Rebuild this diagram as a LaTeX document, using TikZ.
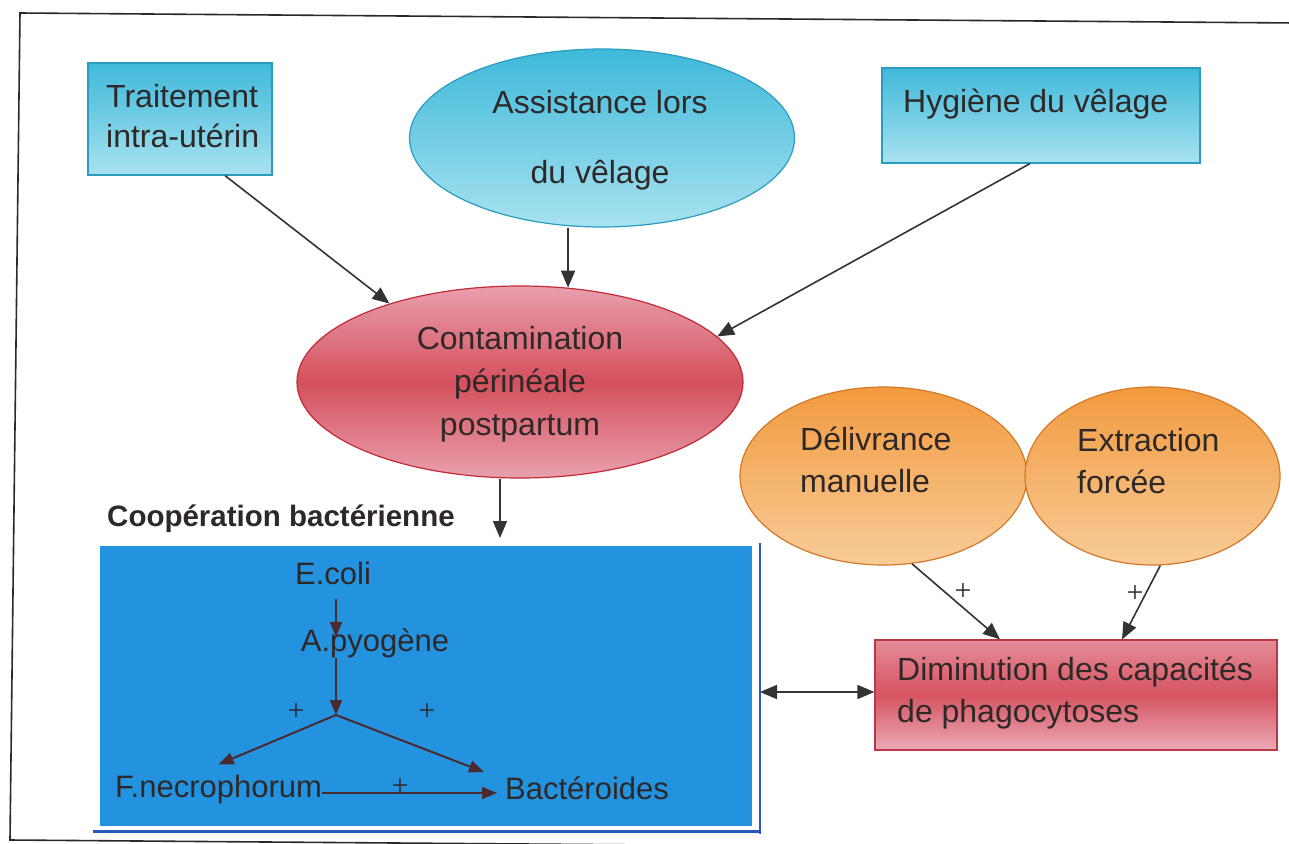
\documentclass[tikz,border=0pt]{standalone}
\usepackage{fontspec}
\setmainfont{Liberation Sans}
\newfontfamily\plusfont{Liberation Serif}
\usetikzlibrary{arrows.meta,shapes.geometric,calc}
\definecolor{txtc}{HTML}{2E2828}
\definecolor{arrc}{HTML}{333333}
\definecolor{barrc}{HTML}{4A2A2E}
\definecolor{cyanT}{HTML}{3FB9D9}
\definecolor{cyanBot}{HTML}{A8E2F0}
\definecolor{cyanBd}{HTML}{2A9CC0}
\definecolor{redM}{HTML}{D4505C}
\definecolor{pinkE}{HTML}{E9A0AE}
\definecolor{redBd}{HTML}{C22A36}
\definecolor{oraT}{HTML}{F29A3E}
\definecolor{oraBot}{HTML}{F8CC98}
\definecolor{oraBd}{HTML}{D4782A}
\definecolor{dimT}{HTML}{E48C98}
\definecolor{dimM}{HTML}{D65461}
\definecolor{dimBot}{HTML}{EBA9B6}
\definecolor{dimBd}{HTML}{B83848}
\definecolor{coopblue}{HTML}{2393E0}
\definecolor{coopline}{HTML}{2858B8}
\definecolor{framec}{HTML}{2A2A2A}
\begin{document}
\begin{tikzpicture}[x=1pt,y=-1pt,
  cyanbox/.style={rectangle, draw=cyanBd, line width=1.2pt, top color=cyanT, bottom color=cyanBot, inner sep=0pt},
  cyanell/.style={ellipse, draw=cyanBd, line width=1.2pt, top color=cyanT, bottom color=cyanBot, inner sep=0pt},
  redell/.style={ellipse, draw=redBd, line width=1.2pt, top color=pinkE, bottom color=pinkE, middle color=redM, inner sep=0pt},
  oraell/.style={ellipse, draw=oraBd, line width=1.2pt, top color=oraT, bottom color=oraBot, inner sep=0pt},
  dimbox/.style={rectangle, draw=dimBd, line width=1.2pt, top color=dimT, bottom color=dimBot, middle color=dimM, inner sep=0pt},
  lbl/.style={text=txtc, inner sep=0pt, font=\fontsize{32}{40}\selectfont},
  bact/.style={text=txtc, inner sep=0pt, font=\fontsize{31}{38}\selectfont},
  plus/.style={text=txtc, inner sep=0pt, font=\plusfont\fontsize{30}{30}\selectfont},
  conn/.style={draw=arrc, line width=1.6pt, -{Triangle[length=17pt,width=14pt]}},
  bconn/.style={draw=barrc, line width=2pt, -{Triangle[length=15pt,width=12pt]}},
  dconn/.style={draw=arrc, line width=1.6pt, {Triangle[length=17pt,width=14pt]}-{Triangle[length=17pt,width=14pt]}}
]
\useasboundingbox (0,0) rectangle (1289,843);
\clip (0,0) rectangle (1289,843);
\fill[white] (0,0) rectangle (1289,843);

% outer frame
\draw[framec, line width=1.6pt] (1295,23) -- (20,13) -- (10,840) -- (1295,850);

% top row
\node[cyanbox, minimum width=184pt, minimum height=112pt] (trait) at (180,119) {};
\node[lbl, align=left, anchor=west, font=\fontsize{32}{40}\selectfont] (traitT) at (106,116) {Traitement\\intra-utérin};

\node[cyanell, minimum width=385pt, minimum height=178pt] (assist) at (602,138) {};
\node[lbl, align=center, font=\fontsize{32}{70}\selectfont] (assistT) at (600,140) {Assistance lors\\du vêlage};

\node[cyanbox, minimum width=318pt, minimum height=95pt] (hyg) at (1041,115.5) {};
\node[lbl, anchor=west] (hygT) at (903,104) {Hygiène du vêlage};

% contamination
\node[redell, minimum width=446pt, minimum height=192pt] (cont) at (520,382) {};
\node[lbl, align=center, font=\fontsize{32}{43}\selectfont] (contT) at (520,384) {Contamination\\périnéale\\postpartum};

% orange ellipses
\node[oraell, minimum width=287pt, minimum height=178pt] (deliv) at (883.5,476) {};
\node[lbl, align=left, anchor=west, font=\fontsize{32}{42}\selectfont] (delivT) at (800,460) {Délivrance\\manuelle};

\node[oraell, minimum width=255pt, minimum height=178pt] (extr) at (1152.5,476) {};
\node[lbl, align=left, anchor=west, font=\fontsize{32}{42}\selectfont] (extrT) at (1077,461) {Extraction\\forcée};

% diminution box
\node[dimbox, minimum width=402pt, minimum height=110pt] (dim) at (1076,695) {};
\node[lbl, align=left, anchor=west, font=\fontsize{32}{42}\selectfont] (dimT) at (897,693) {Diminution des capacités\\de phagocytoses};

% cooperation area
\node[text=txtc, inner sep=0pt, anchor=west, font=\bfseries\fontsize{29.5}{35}\selectfont] (cooptitle) at (107,519) {Coopération bactérienne};
\node[fill=coopblue, inner sep=0pt, minimum width=652pt, minimum height=280pt] (coop) at (426,686) {};
\draw[coopline, line width=1.3pt] (760,543) -- (760,834);
\draw[coopline, line width=2.6pt] (93,831.5) -- (760,831.5);
\coordinate (coopR) at (760,692);
\coordinate (coopIn) at (500,538);

% bacteria
\node[bact, anchor=base] (ecoli) at (333,584) {E.coli};
\node[bact, anchor=base] (apyo) at (375,651) {A.pyogène};
\node[bact, anchor=base west] (fnec) at (115,797) {F.necrophorum};
\node[bact, anchor=base west] (bacto) at (505,799) {Bactéroides};
\coordinate (J) at (336,715);

\draw[bconn] ([yshift=-14pt]ecoli.south -| J) -- ([yshift=-9pt]apyo.north -| J);
\draw[bconn] (apyo.south -| J) -- (J);
\draw[bconn] (J) -- ([yshift=10pt]fnec.north);
\draw[bconn] (J) -- ([shift={(-21pt,4pt)}]bacto.north west);
\draw[bconn] ([yshift=-4pt]fnec.east) -- ([shift={(-8pt,-4pt)}]fnec.east -| bacto.west);

\node[plus] (p1) at (296,712) {+};
\node[plus] (p2) at (427,712) {+};
\node[plus] (p3) at (400,787) {+};

% connectors
\draw[conn] ([xshift=45pt]trait.south) -- (cont.149);
\draw[conn] (assist.south -| cont.63) -- (cont.63);
\draw[conn] ([xshift=-11pt]hyg.south) -- (cont.13);
\draw[conn] (cont.south -| coopIn) -- (coopIn);
\draw[conn] (deliv.-72) -- ([xshift=-76pt]dim.north);
\draw[conn] (extr.-85) -- ([xshift=46pt]dim.north);
\draw[dconn] (coopR) -- (coopR -| dim.west);

\node[plus] (p4) at (963,592) {+};
\node[plus] (p5) at (1135,594) {+};
\end{tikzpicture}
\end{document}
